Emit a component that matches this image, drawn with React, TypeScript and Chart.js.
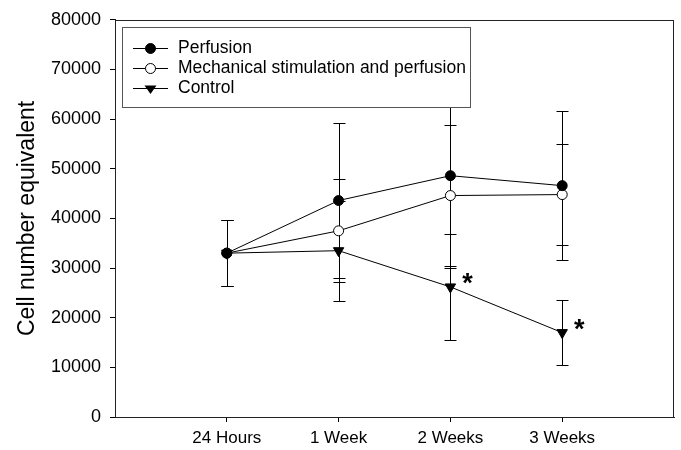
import React, { useEffect, useRef } from "react";
import { Chart, registerables } from "chart.js";

Chart.register(...registerables);

const categories = ["24 Hours", "1 Week", "2 Weeks", "3 Weeks"];
const xPositions = [1, 2, 3, 4];
const yTicks = [0, 10000, 20000, 30000, 40000, 50000, 60000, 70000, 80000];

const perfusion = [33000, 43600, 48600, 46600];
const perfusionErr = [6650, 15600, 18600, 15000];
const mechanical = [33000, 37500, 44600, 44800];
const mechanicalErr = [6650, 10400, 14200, 10100];
const control = [33000, 33500, 26200, 17000];
const controlErr = [6650, 10100, 10600, 6500];
const controlSignificant = [false, false, true, true];

const seriesLabels = [
  "Perfusion",
  "Mechanical stimulation and perfusion",
  "Control",
];

const FONT = "'Liberation Sans', Arial, sans-serif";

const errorSets = [perfusionErr, mechanicalErr, controlErr];

const framePlugin = {
  id: "frame",
  afterDatasetsDraw(chart: any) {
    const { ctx, chartArea } = chart;
    ctx.save();
    ctx.strokeStyle = "#222";
    ctx.lineWidth = 1;
    ctx.strokeRect(
      Math.round(chartArea.left) + 0.5,
      Math.round(chartArea.top) + 0.5,
      Math.round(chartArea.right - chartArea.left) - 1,
      Math.round(chartArea.bottom - chartArea.top)
    );
    ctx.restore();
  },
};

const errorBarPlugin = {
  id: "errorBars",
  beforeDatasetsDraw(chart: any) {
    const { ctx, scales } = chart;
    const xs = scales.x;
    const ys = scales.y;
    ctx.save();
    ctx.strokeStyle = "#000";
    ctx.lineWidth = 1;
    chart.data.datasets.forEach((ds: any, di: number) => {
      const errs = errorSets[di];
      ds.data.forEach((p: any, i: number) => {
        const x = Math.round(xs.getPixelForValue(p.x)) + 0.5;
        const yTop = Math.round(ys.getPixelForValue(p.y + errs[i])) + 0.5;
        const yBot = Math.round(ys.getPixelForValue(p.y - errs[i])) + 0.5;
        ctx.beginPath();
        ctx.moveTo(x, yTop);
        ctx.lineTo(x, yBot);
        ctx.moveTo(x - 6, yTop);
        ctx.lineTo(x + 6, yTop);
        ctx.moveTo(x - 6, yBot);
        ctx.lineTo(x + 6, yBot);
        ctx.stroke();
      });
    });
    ctx.restore();
  },
};

const asteriskPlugin = {
  id: "asterisks",
  afterDatasetsDraw(chart: any) {
    const { ctx, scales } = chart;
    ctx.save();
    ctx.fillStyle = "#000";
    ctx.font = `bold 27px ${FONT}`;
    ctx.textAlign = "center";
    ctx.textBaseline = "middle";
    control.forEach((v, i) => {
      if (!controlSignificant[i]) return;
      const x = scales.x.getPixelForValue(xPositions[i]);
      const y = scales.y.getPixelForValue(v);
      ctx.fillText("*", x + 17, y - 2);
    });
    ctx.restore();
  },
};

function drawMarker(ctx: any, kind: number, x: number, y: number) {
  ctx.beginPath();
  if (kind === 2) {
    const r = 6;
    ctx.moveTo(x - r, y - r * 0.5);
    ctx.lineTo(x + r, y - r * 0.5);
    ctx.lineTo(x, y + r * 0.9);
    ctx.closePath();
    ctx.fillStyle = "#000";
    ctx.fill();
  } else {
    ctx.arc(x, y, 5, 0, Math.PI * 2);
    ctx.fillStyle = kind === 0 ? "#000" : "#fff";
    ctx.fill();
    ctx.strokeStyle = "#000";
    ctx.lineWidth = 1;
    ctx.stroke();
  }
}

const legendPlugin = {
  id: "customLegend",
  afterDraw(chart: any) {
    const { ctx, chartArea } = chart;
    ctx.save();
    ctx.font = `17.5px ${FONT}`;
    const boxLeft = Math.round(chartArea.left) + 7.5;
    const boxTop = Math.round(chartArea.top) + 7.5;
    const textX = chartArea.left + 63;
    let maxW = 0;
    seriesLabels.forEach((l) => {
      maxW = Math.max(maxW, ctx.measureText(l).width);
    });
    const boxW = Math.round(textX + maxW + 5 - boxLeft);
    const boxH = 80;
    ctx.fillStyle = "#fff";
    ctx.fillRect(boxLeft, boxTop, boxW, boxH);
    ctx.strokeStyle = "#555";
    ctx.lineWidth = 1;
    ctx.strokeRect(boxLeft, boxTop, boxW, boxH);
    seriesLabels.forEach((l, i) => {
      const y = Math.round(chartArea.top + 28 + i * 20) + 0.5;
      const lx0 = chartArea.left + 18;
      const lx1 = chartArea.left + 53;
      ctx.strokeStyle = "#000";
      ctx.lineWidth = 1;
      ctx.beginPath();
      ctx.moveTo(lx0, y);
      ctx.lineTo(lx1, y);
      ctx.stroke();
      drawMarker(ctx, i, (lx0 + lx1) / 2, y);
      ctx.fillStyle = "#000";
      ctx.textAlign = "left";
      ctx.textBaseline = "middle";
      ctx.fillText(l, textX, y);
    });
    ctx.restore();
  },
};

export default function App() {
  const canvasRef = useRef<HTMLCanvasElement | null>(null);

  useEffect(() => {
    document.body.style.margin = "0";
    const canvas = canvasRef.current;
    if (!canvas) return;

    const mk = (arr: number[]) => arr.map((v, i) => ({ x: xPositions[i], y: v }));

    const chart = new Chart(canvas, {
      type: "line",
      data: {
        datasets: [
          {
            label: seriesLabels[0],
            data: mk(perfusion),
            borderColor: "#000",
            borderWidth: 1,
            backgroundColor: "#000",
            pointBackgroundColor: "#000",
            pointBorderColor: "#000",
            pointStyle: "circle",
            pointRadius: 5,
            pointBorderWidth: 1,
          },
          {
            label: seriesLabels[1],
            data: mk(mechanical),
            borderColor: "#000",
            borderWidth: 1,
            backgroundColor: "#fff",
            pointBackgroundColor: "#fff",
            pointBorderColor: "#000",
            pointStyle: "circle",
            pointRadius: 5,
            pointBorderWidth: 1,
          },
          {
            label: seriesLabels[2],
            data: mk(control),
            borderColor: "#000",
            borderWidth: 1,
            backgroundColor: "#000",
            pointBackgroundColor: "#000",
            pointBorderColor: "#000",
            pointStyle: "triangle",
            pointRotation: 180,
            pointRadius: 6,
            pointBorderWidth: 1,
          },
        ],
      },
      options: {
        responsive: false,
        animation: false,
        layout: { padding: { top: 14, right: 5, left: 0, bottom: 0 } },
        plugins: {
          legend: { display: false },
          tooltip: { enabled: false },
        },
        scales: {
          x: {
            type: "linear",
            min: 0,
            max: 5,
            afterBuildTicks: (s: any) => {
              s.ticks = xPositions.map((v) => ({ value: v }));
            },
            afterFit: (s: any) => {
              s.height = 33;
            },
            ticks: {
              color: "#000",
              font: { family: FONT, size: 17 },
              padding: 6,
              maxRotation: 0,
              autoSkip: false,
              callback: (v: any) => {
                const idx = xPositions.indexOf(Number(v));
                return idx >= 0 ? categories[idx] : "";
              },
            },
            grid: {
              display: true,
              drawOnChartArea: false,
              drawTicks: true,
              tickLength: 5,
              color: "#000",
            },
            border: { display: true, color: "#222" },
          },
          y: {
            type: "linear",
            min: 0,
            max: 80000,
            afterBuildTicks: (s: any) => {
              s.ticks = yTicks.map((v) => ({ value: v }));
            },
            afterFit: (s: any) => {
              s.width = 115;
            },
            ticks: {
              color: "#000",
              font: { family: FONT, size: 18 },
              padding: 9,
              callback: (v: any) => String(v),
            },
            grid: {
              display: true,
              drawOnChartArea: false,
              drawTicks: true,
              tickLength: 5,
              color: "#000",
            },
            border: { display: true, color: "#222" },
            title: {
              display: true,
              text: "Cell number equivalent",
              color: "#000",
              font: { family: FONT, size: 23, lineHeight: 1 },
              padding: { top: 16, bottom: 0 },
            },
          },
        },
      } as any,
      plugins: [errorBarPlugin, framePlugin, asteriskPlugin, legendPlugin],
    });

    return () => chart.destroy();
  }, []);

  return (
    <canvas
      ref={canvasRef}
      width={681}
      height={450}
      style={{ display: "block", width: 681, height: 450 }}
    />
  );
}
